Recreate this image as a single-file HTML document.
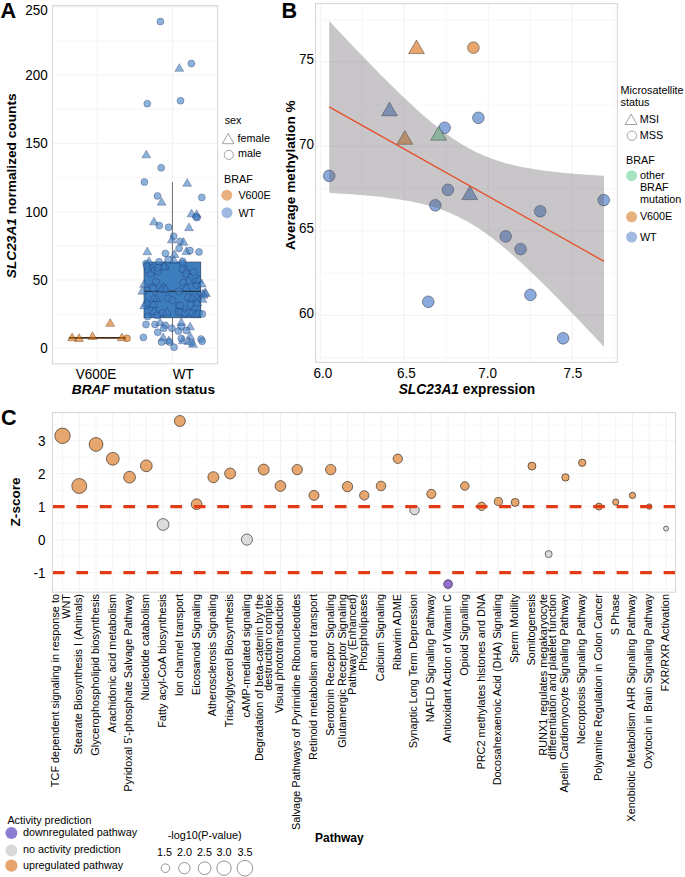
<!DOCTYPE html>
<html><head><meta charset="utf-8"><style>html,body{margin:0;padding:0;background:#fff;}body{width:685px;height:877px;overflow:hidden;position:relative;font-family:"Liberation Sans", sans-serif;}</style></head><body>
<svg width="685" height="877" viewBox="0 0 685 877" style="position:absolute;left:0;top:0;font-family:'Liberation Sans', sans-serif">
<rect x="0" y="0" width="685" height="877" fill="#ffffff"/>
<g stroke="#f0f0f0" stroke-width="0.8" fill="none">
<line x1="52.4" x2="217.6" y1="314.15" y2="314.15" stroke-width="0.6"/>
<line x1="52.4" x2="217.6" y1="245.85" y2="245.85" stroke-width="0.6"/>
<line x1="52.4" x2="217.6" y1="177.55" y2="177.55" stroke-width="0.6"/>
<line x1="52.4" x2="217.6" y1="109.25" y2="109.25" stroke-width="0.6"/>
<line x1="52.4" x2="217.6" y1="40.95" y2="40.95" stroke-width="0.6"/>
<line x1="52.4" x2="217.6" y1="348.30" y2="348.30"/>
<line x1="52.4" x2="217.6" y1="280.00" y2="280.00"/>
<line x1="52.4" x2="217.6" y1="211.70" y2="211.70"/>
<line x1="52.4" x2="217.6" y1="143.40" y2="143.40"/>
<line x1="52.4" x2="217.6" y1="75.10" y2="75.10"/>
<line x1="52.4" x2="217.6" y1="6.80" y2="6.80"/>
<line x1="97.4" x2="97.4" y1="5.7" y2="363.8"/>
<line x1="172.5" x2="172.5" y1="5.7" y2="363.8"/>
</g>
<text transform="translate(47.8,15.3) scale(1,1.06)" x="0" y="0" font-size="13.5" text-anchor="end" font-weight="normal" font-style="normal" fill="#000" >250</text>
<text transform="translate(47.8,80.0) scale(1,1.06)" x="0" y="0" font-size="13.5" text-anchor="end" font-weight="normal" font-style="normal" fill="#000" >200</text>
<text transform="translate(47.8,148.4) scale(1,1.06)" x="0" y="0" font-size="13.5" text-anchor="end" font-weight="normal" font-style="normal" fill="#000" >150</text>
<text transform="translate(47.8,216.5) scale(1,1.06)" x="0" y="0" font-size="13.5" text-anchor="end" font-weight="normal" font-style="normal" fill="#000" >100</text>
<text transform="translate(47.8,284.9) scale(1,1.06)" x="0" y="0" font-size="13.5" text-anchor="end" font-weight="normal" font-style="normal" fill="#000" >50</text>
<text transform="translate(47.8,353.2) scale(1,1.06)" x="0" y="0" font-size="13.5" text-anchor="end" font-weight="normal" font-style="normal" fill="#000" >0</text>
<line x1="172.4" x2="172.4" y1="182" y2="262.1" stroke="#5e5e5e" stroke-width="0.9"/>
<line x1="172.4" x2="172.4" y1="317.7" y2="345" stroke="#5e5e5e" stroke-width="0.9"/>
<rect x="144.1" y="262.1" width="56.6" height="55.6" fill="#3c7dbe" stroke="#2a4866" stroke-width="0.8"/>
<line x1="144.1" x2="200.7" y1="291.4" y2="291.4" stroke="#24364a" stroke-width="1.4"/>
<line x1="68.8" x2="126" y1="337.9" y2="337.9" stroke="#4a2e18" stroke-width="1.6"/>
<g>
<circle cx="160.40" cy="21.60" r="3.5" fill="#3f7ec2" fill-opacity="0.6" stroke="#16205a" stroke-opacity="0.6" stroke-width="0.5"/>
<circle cx="191.40" cy="63.50" r="3.5" fill="#3f7ec2" fill-opacity="0.6" stroke="#16205a" stroke-opacity="0.6" stroke-width="0.5"/>
<polygon points="179.30,63.65 183.70,71.35 174.90,71.35" fill="#3f7ec2" fill-opacity="0.6" stroke="#16205a" stroke-opacity="0.6" stroke-width="0.5"/>
<circle cx="147.30" cy="103.70" r="3.5" fill="#3f7ec2" fill-opacity="0.6" stroke="#16205a" stroke-opacity="0.6" stroke-width="0.5"/>
<circle cx="180.50" cy="100.70" r="3.5" fill="#3f7ec2" fill-opacity="0.6" stroke="#16205a" stroke-opacity="0.6" stroke-width="0.5"/>
<polygon points="146.30,150.15 150.70,157.85 141.90,157.85" fill="#3f7ec2" fill-opacity="0.6" stroke="#16205a" stroke-opacity="0.6" stroke-width="0.5"/>
<circle cx="161.20" cy="167.80" r="3.5" fill="#3f7ec2" fill-opacity="0.6" stroke="#16205a" stroke-opacity="0.6" stroke-width="0.5"/>
<circle cx="144.40" cy="182.00" r="3.5" fill="#3f7ec2" fill-opacity="0.6" stroke="#16205a" stroke-opacity="0.6" stroke-width="0.5"/>
<circle cx="157.50" cy="195.90" r="3.5" fill="#3f7ec2" fill-opacity="0.6" stroke="#16205a" stroke-opacity="0.6" stroke-width="0.5"/>
<polygon points="161.60,197.45 166.00,205.15 157.20,205.15" fill="#3f7ec2" fill-opacity="0.6" stroke="#16205a" stroke-opacity="0.6" stroke-width="0.5"/>
<polygon points="187.20,178.65 191.60,186.35 182.80,186.35" fill="#3f7ec2" fill-opacity="0.6" stroke="#16205a" stroke-opacity="0.6" stroke-width="0.5"/>
<circle cx="201.80" cy="197.40" r="3.5" fill="#3f7ec2" fill-opacity="0.6" stroke="#16205a" stroke-opacity="0.6" stroke-width="0.5"/>
<polygon points="191.50,209.15 195.90,216.85 187.10,216.85" fill="#3f7ec2" fill-opacity="0.6" stroke="#16205a" stroke-opacity="0.6" stroke-width="0.5"/>
<polygon points="196.60,209.75 201.00,217.45 192.20,217.45" fill="#3f7ec2" fill-opacity="0.6" stroke="#16205a" stroke-opacity="0.6" stroke-width="0.5"/>
<circle cx="197.10" cy="217.60" r="3.5" fill="#3f7ec2" fill-opacity="0.6" stroke="#16205a" stroke-opacity="0.6" stroke-width="0.5"/>
<circle cx="196.00" cy="216.80" r="3.5" fill="#3f7ec2" fill-opacity="0.6" stroke="#16205a" stroke-opacity="0.6" stroke-width="0.5"/>
<polygon points="154.00,217.15 158.40,224.85 149.60,224.85" fill="#3f7ec2" fill-opacity="0.6" stroke="#16205a" stroke-opacity="0.6" stroke-width="0.5"/>
<circle cx="159.30" cy="225.60" r="3.5" fill="#3f7ec2" fill-opacity="0.6" stroke="#16205a" stroke-opacity="0.6" stroke-width="0.5"/>
<circle cx="168.60" cy="227.30" r="3.5" fill="#3f7ec2" fill-opacity="0.6" stroke="#16205a" stroke-opacity="0.6" stroke-width="0.5"/>
<polygon points="189.00,222.95 193.40,230.65 184.60,230.65" fill="#3f7ec2" fill-opacity="0.6" stroke="#16205a" stroke-opacity="0.6" stroke-width="0.5"/>
<circle cx="173.60" cy="236.20" r="3.5" fill="#3f7ec2" fill-opacity="0.6" stroke="#16205a" stroke-opacity="0.6" stroke-width="0.5"/>
<polygon points="171.80,235.15 176.20,242.85 167.40,242.85" fill="#3f7ec2" fill-opacity="0.6" stroke="#16205a" stroke-opacity="0.6" stroke-width="0.5"/>
<circle cx="180.00" cy="241.40" r="3.5" fill="#3f7ec2" fill-opacity="0.6" stroke="#16205a" stroke-opacity="0.6" stroke-width="0.5"/>
<polygon points="183.50,237.55 187.90,245.25 179.10,245.25" fill="#3f7ec2" fill-opacity="0.6" stroke="#16205a" stroke-opacity="0.6" stroke-width="0.5"/>
<circle cx="179.10" cy="248.40" r="3.5" fill="#3f7ec2" fill-opacity="0.6" stroke="#16205a" stroke-opacity="0.6" stroke-width="0.5"/>
<polygon points="147.30,247.05 151.70,254.75 142.90,254.75" fill="#3f7ec2" fill-opacity="0.6" stroke="#16205a" stroke-opacity="0.6" stroke-width="0.5"/>
<circle cx="165.40" cy="253.40" r="3.5" fill="#3f7ec2" fill-opacity="0.6" stroke="#16205a" stroke-opacity="0.6" stroke-width="0.5"/>
<polygon points="174.50,249.75 178.90,257.45 170.10,257.45" fill="#3f7ec2" fill-opacity="0.6" stroke="#16205a" stroke-opacity="0.6" stroke-width="0.5"/>
<polygon points="186.40,246.85 190.80,254.55 182.00,254.55" fill="#3f7ec2" fill-opacity="0.6" stroke="#16205a" stroke-opacity="0.6" stroke-width="0.5"/>
<circle cx="189.90" cy="250.50" r="3.5" fill="#3f7ec2" fill-opacity="0.6" stroke="#16205a" stroke-opacity="0.6" stroke-width="0.5"/>
<circle cx="199.00" cy="251.90" r="3.5" fill="#3f7ec2" fill-opacity="0.6" stroke="#16205a" stroke-opacity="0.6" stroke-width="0.5"/>
<circle cx="168.30" cy="259.50" r="3.5" fill="#3f7ec2" fill-opacity="0.6" stroke="#16205a" stroke-opacity="0.6" stroke-width="0.5"/>
<polygon points="174.10,255.65 178.50,263.35 169.70,263.35" fill="#3f7ec2" fill-opacity="0.6" stroke="#16205a" stroke-opacity="0.6" stroke-width="0.5"/>
<circle cx="182.60" cy="261.20" r="3.5" fill="#3f7ec2" fill-opacity="0.6" stroke="#16205a" stroke-opacity="0.6" stroke-width="0.5"/>
<circle cx="159.00" cy="261.80" r="3.5" fill="#3f7ec2" fill-opacity="0.6" stroke="#16205a" stroke-opacity="0.6" stroke-width="0.5"/>
<polygon points="149.00,256.75 153.40,264.45 144.60,264.45" fill="#3f7ec2" fill-opacity="0.6" stroke="#16205a" stroke-opacity="0.6" stroke-width="0.5"/>
<circle cx="146.10" cy="263.50" r="3.5" fill="#3f7ec2" fill-opacity="0.6" stroke="#16205a" stroke-opacity="0.6" stroke-width="0.5"/>
<polygon points="164.80,260.85 169.20,268.55 160.40,268.55" fill="#3f7ec2" fill-opacity="0.6" stroke="#16205a" stroke-opacity="0.6" stroke-width="0.5"/>
<circle cx="147.70" cy="269.70" r="3.5" fill="#3f7ec2" fill-opacity="0.6" stroke="#16205a" stroke-opacity="0.6" stroke-width="0.5"/>
<circle cx="151.00" cy="273.80" r="3.5" fill="#3f7ec2" fill-opacity="0.6" stroke="#16205a" stroke-opacity="0.6" stroke-width="0.5"/>
<circle cx="154.80" cy="270.20" r="3.5" fill="#3f7ec2" fill-opacity="0.6" stroke="#16205a" stroke-opacity="0.6" stroke-width="0.5"/>
<circle cx="157.60" cy="271.50" r="3.5" fill="#3f7ec2" fill-opacity="0.6" stroke="#16205a" stroke-opacity="0.6" stroke-width="0.5"/>
<circle cx="146.80" cy="266.10" r="3.5" fill="#3f7ec2" fill-opacity="0.6" stroke="#16205a" stroke-opacity="0.6" stroke-width="0.5"/>
<polygon points="164.00,262.05 168.40,269.75 159.60,269.75" fill="#3f7ec2" fill-opacity="0.6" stroke="#16205a" stroke-opacity="0.6" stroke-width="0.5"/>
<circle cx="158.10" cy="267.80" r="3.5" fill="#3f7ec2" fill-opacity="0.6" stroke="#16205a" stroke-opacity="0.6" stroke-width="0.5"/>
<circle cx="155.80" cy="282.00" r="3.5" fill="#3f7ec2" fill-opacity="0.6" stroke="#16205a" stroke-opacity="0.6" stroke-width="0.5"/>
<polygon points="144.00,279.65 148.40,287.35 139.60,287.35" fill="#3f7ec2" fill-opacity="0.6" stroke="#16205a" stroke-opacity="0.6" stroke-width="0.5"/>
<circle cx="152.30" cy="287.10" r="3.5" fill="#3f7ec2" fill-opacity="0.6" stroke="#16205a" stroke-opacity="0.6" stroke-width="0.5"/>
<circle cx="153.30" cy="288.60" r="3.5" fill="#3f7ec2" fill-opacity="0.6" stroke="#16205a" stroke-opacity="0.6" stroke-width="0.5"/>
<polygon points="163.50,282.75 167.90,290.45 159.10,290.45" fill="#3f7ec2" fill-opacity="0.6" stroke="#16205a" stroke-opacity="0.6" stroke-width="0.5"/>
<polygon points="161.50,284.75 165.90,292.45 157.10,292.45" fill="#3f7ec2" fill-opacity="0.6" stroke="#16205a" stroke-opacity="0.6" stroke-width="0.5"/>
<polygon points="165.70,284.65 170.10,292.35 161.30,292.35" fill="#3f7ec2" fill-opacity="0.6" stroke="#16205a" stroke-opacity="0.6" stroke-width="0.5"/>
<circle cx="182.60" cy="263.30" r="3.5" fill="#3f7ec2" fill-opacity="0.6" stroke="#16205a" stroke-opacity="0.6" stroke-width="0.5"/>
<circle cx="182.60" cy="269.10" r="3.5" fill="#3f7ec2" fill-opacity="0.6" stroke="#16205a" stroke-opacity="0.6" stroke-width="0.5"/>
<polygon points="186.90,266.45 191.30,274.15 182.50,274.15" fill="#3f7ec2" fill-opacity="0.6" stroke="#16205a" stroke-opacity="0.6" stroke-width="0.5"/>
<circle cx="185.80" cy="273.80" r="3.5" fill="#3f7ec2" fill-opacity="0.6" stroke="#16205a" stroke-opacity="0.6" stroke-width="0.5"/>
<circle cx="193.60" cy="272.00" r="3.5" fill="#3f7ec2" fill-opacity="0.6" stroke="#16205a" stroke-opacity="0.6" stroke-width="0.5"/>
<polygon points="188.60,276.15 193.00,283.85 184.20,283.85" fill="#3f7ec2" fill-opacity="0.6" stroke="#16205a" stroke-opacity="0.6" stroke-width="0.5"/>
<circle cx="183.40" cy="282.50" r="3.5" fill="#3f7ec2" fill-opacity="0.6" stroke="#16205a" stroke-opacity="0.6" stroke-width="0.5"/>
<circle cx="195.70" cy="281.40" r="3.5" fill="#3f7ec2" fill-opacity="0.6" stroke="#16205a" stroke-opacity="0.6" stroke-width="0.5"/>
<circle cx="196.90" cy="285.40" r="3.5" fill="#3f7ec2" fill-opacity="0.6" stroke="#16205a" stroke-opacity="0.6" stroke-width="0.5"/>
<polygon points="198.60,275.15 203.00,282.85 194.20,282.85" fill="#3f7ec2" fill-opacity="0.6" stroke="#16205a" stroke-opacity="0.6" stroke-width="0.5"/>
<polygon points="201.80,279.25 206.20,286.95 197.40,286.95" fill="#3f7ec2" fill-opacity="0.6" stroke="#16205a" stroke-opacity="0.6" stroke-width="0.5"/>
<polygon points="186.40,283.35 190.80,291.05 182.00,291.05" fill="#3f7ec2" fill-opacity="0.6" stroke="#16205a" stroke-opacity="0.6" stroke-width="0.5"/>
<circle cx="178.80" cy="291.30" r="3.5" fill="#3f7ec2" fill-opacity="0.6" stroke="#16205a" stroke-opacity="0.6" stroke-width="0.5"/>
<polygon points="205.00,288.05 209.40,295.75 200.60,295.75" fill="#3f7ec2" fill-opacity="0.6" stroke="#16205a" stroke-opacity="0.6" stroke-width="0.5"/>
<polygon points="202.70,289.15 207.10,296.85 198.30,296.85" fill="#3f7ec2" fill-opacity="0.6" stroke="#16205a" stroke-opacity="0.6" stroke-width="0.5"/>
<polygon points="142.30,286.45 146.70,294.15 137.90,294.15" fill="#3f7ec2" fill-opacity="0.6" stroke="#16205a" stroke-opacity="0.6" stroke-width="0.5"/>
<polygon points="156.40,293.95 160.80,301.65 152.00,301.65" fill="#3f7ec2" fill-opacity="0.6" stroke="#16205a" stroke-opacity="0.6" stroke-width="0.5"/>
<polygon points="153.40,293.75 157.80,301.45 149.00,301.45" fill="#3f7ec2" fill-opacity="0.6" stroke="#16205a" stroke-opacity="0.6" stroke-width="0.5"/>
<circle cx="168.00" cy="298.10" r="3.5" fill="#3f7ec2" fill-opacity="0.6" stroke="#16205a" stroke-opacity="0.6" stroke-width="0.5"/>
<circle cx="172.40" cy="300.20" r="3.5" fill="#3f7ec2" fill-opacity="0.6" stroke="#16205a" stroke-opacity="0.6" stroke-width="0.5"/>
<polygon points="146.40,298.65 150.80,306.35 142.00,306.35" fill="#3f7ec2" fill-opacity="0.6" stroke="#16205a" stroke-opacity="0.6" stroke-width="0.5"/>
<polygon points="144.10,301.05 148.50,308.75 139.70,308.75" fill="#3f7ec2" fill-opacity="0.6" stroke="#16205a" stroke-opacity="0.6" stroke-width="0.5"/>
<polygon points="153.40,299.85 157.80,307.55 149.00,307.55" fill="#3f7ec2" fill-opacity="0.6" stroke="#16205a" stroke-opacity="0.6" stroke-width="0.5"/>
<circle cx="178.50" cy="305.40" r="3.5" fill="#3f7ec2" fill-opacity="0.6" stroke="#16205a" stroke-opacity="0.6" stroke-width="0.5"/>
<polygon points="154.00,306.85 158.40,314.55 149.60,314.55" fill="#3f7ec2" fill-opacity="0.6" stroke="#16205a" stroke-opacity="0.6" stroke-width="0.5"/>
<circle cx="162.20" cy="313.00" r="3.5" fill="#3f7ec2" fill-opacity="0.6" stroke="#16205a" stroke-opacity="0.6" stroke-width="0.5"/>
<polygon points="166.90,307.45 171.30,315.15 162.50,315.15" fill="#3f7ec2" fill-opacity="0.6" stroke="#16205a" stroke-opacity="0.6" stroke-width="0.5"/>
<circle cx="157.00" cy="315.40" r="3.5" fill="#3f7ec2" fill-opacity="0.6" stroke="#16205a" stroke-opacity="0.6" stroke-width="0.5"/>
<circle cx="178.50" cy="311.90" r="3.5" fill="#3f7ec2" fill-opacity="0.6" stroke="#16205a" stroke-opacity="0.6" stroke-width="0.5"/>
<circle cx="147.60" cy="316.50" r="3.5" fill="#3f7ec2" fill-opacity="0.6" stroke="#16205a" stroke-opacity="0.6" stroke-width="0.5"/>
<polygon points="205.90,288.85 210.30,296.55 201.50,296.55" fill="#3f7ec2" fill-opacity="0.6" stroke="#16205a" stroke-opacity="0.6" stroke-width="0.5"/>
<polygon points="203.60,290.55 208.00,298.25 199.20,298.25" fill="#3f7ec2" fill-opacity="0.6" stroke="#16205a" stroke-opacity="0.6" stroke-width="0.5"/>
<polygon points="202.40,294.65 206.80,302.35 198.00,302.35" fill="#3f7ec2" fill-opacity="0.6" stroke="#16205a" stroke-opacity="0.6" stroke-width="0.5"/>
<circle cx="187.80" cy="297.30" r="3.5" fill="#3f7ec2" fill-opacity="0.6" stroke="#16205a" stroke-opacity="0.6" stroke-width="0.5"/>
<polygon points="191.90,293.45 196.30,301.15 187.50,301.15" fill="#3f7ec2" fill-opacity="0.6" stroke="#16205a" stroke-opacity="0.6" stroke-width="0.5"/>
<polygon points="197.20,292.95 201.60,300.65 192.80,300.65" fill="#3f7ec2" fill-opacity="0.6" stroke="#16205a" stroke-opacity="0.6" stroke-width="0.5"/>
<circle cx="180.30" cy="305.50" r="3.5" fill="#3f7ec2" fill-opacity="0.6" stroke="#16205a" stroke-opacity="0.6" stroke-width="0.5"/>
<circle cx="190.20" cy="304.90" r="3.5" fill="#3f7ec2" fill-opacity="0.6" stroke="#16205a" stroke-opacity="0.6" stroke-width="0.5"/>
<polygon points="197.20,298.15 201.60,305.85 192.80,305.85" fill="#3f7ec2" fill-opacity="0.6" stroke="#16205a" stroke-opacity="0.6" stroke-width="0.5"/>
<circle cx="180.80" cy="312.50" r="3.5" fill="#3f7ec2" fill-opacity="0.6" stroke="#16205a" stroke-opacity="0.6" stroke-width="0.5"/>
<circle cx="184.90" cy="313.70" r="3.5" fill="#3f7ec2" fill-opacity="0.6" stroke="#16205a" stroke-opacity="0.6" stroke-width="0.5"/>
<circle cx="189.00" cy="312.50" r="3.5" fill="#3f7ec2" fill-opacity="0.6" stroke="#16205a" stroke-opacity="0.6" stroke-width="0.5"/>
<circle cx="192.50" cy="313.10" r="3.5" fill="#3f7ec2" fill-opacity="0.6" stroke="#16205a" stroke-opacity="0.6" stroke-width="0.5"/>
<circle cx="196.60" cy="314.30" r="3.5" fill="#3f7ec2" fill-opacity="0.6" stroke="#16205a" stroke-opacity="0.6" stroke-width="0.5"/>
<circle cx="199.00" cy="313.10" r="3.5" fill="#3f7ec2" fill-opacity="0.6" stroke="#16205a" stroke-opacity="0.6" stroke-width="0.5"/>
<circle cx="202.40" cy="314.00" r="3.5" fill="#3f7ec2" fill-opacity="0.6" stroke="#16205a" stroke-opacity="0.6" stroke-width="0.5"/>
<circle cx="146.00" cy="324.50" r="3.5" fill="#3f7ec2" fill-opacity="0.6" stroke="#16205a" stroke-opacity="0.6" stroke-width="0.5"/>
<circle cx="155.00" cy="324.50" r="3.5" fill="#3f7ec2" fill-opacity="0.6" stroke="#16205a" stroke-opacity="0.6" stroke-width="0.5"/>
<polygon points="160.10,317.75 164.50,325.45 155.70,325.45" fill="#3f7ec2" fill-opacity="0.6" stroke="#16205a" stroke-opacity="0.6" stroke-width="0.5"/>
<circle cx="165.30" cy="325.30" r="3.5" fill="#3f7ec2" fill-opacity="0.6" stroke="#16205a" stroke-opacity="0.6" stroke-width="0.5"/>
<circle cx="163.80" cy="328.20" r="3.5" fill="#3f7ec2" fill-opacity="0.6" stroke="#16205a" stroke-opacity="0.6" stroke-width="0.5"/>
<circle cx="171.80" cy="328.20" r="3.5" fill="#3f7ec2" fill-opacity="0.6" stroke="#16205a" stroke-opacity="0.6" stroke-width="0.5"/>
<polygon points="181.30,317.75 185.70,325.45 176.90,325.45" fill="#3f7ec2" fill-opacity="0.6" stroke="#16205a" stroke-opacity="0.6" stroke-width="0.5"/>
<circle cx="181.30" cy="326.70" r="3.5" fill="#3f7ec2" fill-opacity="0.6" stroke="#16205a" stroke-opacity="0.6" stroke-width="0.5"/>
<polygon points="190.10,322.15 194.50,329.85 185.70,329.85" fill="#3f7ec2" fill-opacity="0.6" stroke="#16205a" stroke-opacity="0.6" stroke-width="0.5"/>
<circle cx="178.40" cy="331.10" r="3.5" fill="#3f7ec2" fill-opacity="0.6" stroke="#16205a" stroke-opacity="0.6" stroke-width="0.5"/>
<circle cx="186.40" cy="330.40" r="3.5" fill="#3f7ec2" fill-opacity="0.6" stroke="#16205a" stroke-opacity="0.6" stroke-width="0.5"/>
<circle cx="157.70" cy="332.30" r="3.5" fill="#3f7ec2" fill-opacity="0.6" stroke="#16205a" stroke-opacity="0.6" stroke-width="0.5"/>
<circle cx="143.40" cy="337.40" r="3.5" fill="#3f7ec2" fill-opacity="0.6" stroke="#16205a" stroke-opacity="0.6" stroke-width="0.5"/>
<polygon points="163.10,333.05 167.50,340.75 158.70,340.75" fill="#3f7ec2" fill-opacity="0.6" stroke="#16205a" stroke-opacity="0.6" stroke-width="0.5"/>
<circle cx="161.60" cy="342.00" r="3.5" fill="#3f7ec2" fill-opacity="0.6" stroke="#16205a" stroke-opacity="0.6" stroke-width="0.5"/>
<polygon points="168.90,336.05 173.30,343.75 164.50,343.75" fill="#3f7ec2" fill-opacity="0.6" stroke="#16205a" stroke-opacity="0.6" stroke-width="0.5"/>
<circle cx="169.60" cy="342.00" r="3.5" fill="#3f7ec2" fill-opacity="0.6" stroke="#16205a" stroke-opacity="0.6" stroke-width="0.5"/>
<circle cx="174.00" cy="347.20" r="3.5" fill="#3f7ec2" fill-opacity="0.6" stroke="#16205a" stroke-opacity="0.6" stroke-width="0.5"/>
<polygon points="182.80,336.05 187.20,343.75 178.40,343.75" fill="#3f7ec2" fill-opacity="0.6" stroke="#16205a" stroke-opacity="0.6" stroke-width="0.5"/>
<circle cx="181.30" cy="338.40" r="3.5" fill="#3f7ec2" fill-opacity="0.6" stroke="#16205a" stroke-opacity="0.6" stroke-width="0.5"/>
<polygon points="190.10,331.65 194.50,339.35 185.70,339.35" fill="#3f7ec2" fill-opacity="0.6" stroke="#16205a" stroke-opacity="0.6" stroke-width="0.5"/>
<polygon points="188.60,336.75 193.00,344.45 184.20,344.45" fill="#3f7ec2" fill-opacity="0.6" stroke="#16205a" stroke-opacity="0.6" stroke-width="0.5"/>
<polygon points="193.00,339.65 197.40,347.35 188.60,347.35" fill="#3f7ec2" fill-opacity="0.6" stroke="#16205a" stroke-opacity="0.6" stroke-width="0.5"/>
<circle cx="191.50" cy="342.80" r="3.5" fill="#3f7ec2" fill-opacity="0.6" stroke="#16205a" stroke-opacity="0.6" stroke-width="0.5"/>
<circle cx="201.00" cy="339.10" r="3.5" fill="#3f7ec2" fill-opacity="0.6" stroke="#16205a" stroke-opacity="0.6" stroke-width="0.5"/>
<circle cx="202.20" cy="341.30" r="3.5" fill="#3f7ec2" fill-opacity="0.6" stroke="#16205a" stroke-opacity="0.6" stroke-width="0.5"/>
</g>
<polygon points="72.10,333.05 76.50,340.75 67.70,340.75" fill="#d56e0d" fill-opacity="0.6" stroke="#4a2a10" stroke-opacity="0.6" stroke-width="0.6"/>
<polygon points="79.00,333.75 83.40,341.45 74.60,341.45" fill="#d56e0d" fill-opacity="0.6" stroke="#4a2a10" stroke-opacity="0.6" stroke-width="0.6"/>
<polygon points="92.50,331.75 96.90,339.45 88.10,339.45" fill="#d56e0d" fill-opacity="0.6" stroke="#4a2a10" stroke-opacity="0.6" stroke-width="0.6"/>
<polygon points="110.20,318.65 114.60,326.35 105.80,326.35" fill="#d56e0d" fill-opacity="0.6" stroke="#4a2a10" stroke-opacity="0.6" stroke-width="0.6"/>
<polygon points="121.80,333.05 126.20,340.75 117.40,340.75" fill="#d56e0d" fill-opacity="0.6" stroke="#4a2a10" stroke-opacity="0.6" stroke-width="0.6"/>
<circle cx="127.00" cy="338.30" r="3.5" fill="#d56e0d" fill-opacity="0.6" stroke="#4a2a10" stroke-opacity="0.6" stroke-width="0.6"/>
<rect x="52.4" y="5.7" width="165.2" height="358.1" fill="none" stroke="#d4d4d4" stroke-width="1"/>
<text transform="translate(96.0,378.8) scale(1,1.06)" x="0" y="0" font-size="13.5" text-anchor="middle" font-weight="normal" font-style="normal" fill="#000" >V600E</text>
<text transform="translate(172.8,378.8) scale(1,1.06)" x="0" y="0" font-size="13.5" text-anchor="start" font-weight="normal" font-style="normal" fill="#000" >WT</text>
<text transform="translate(71.8,393.5) " x="0" y="0" font-size="13.65" font-weight="bold" fill="#000"><tspan font-style="italic">BRAF</tspan> mutation status</text>
<text transform="translate(15.9,185.8) rotate(-90) " x="0" y="0" font-size="13.7" font-weight="bold" text-anchor="middle" fill="#000"><tspan font-style="italic">SLC23A1</tspan> normalized counts</text>
<text transform="translate(0.6,17.7) scale(1,1.06)" x="0" y="0" font-size="21.6" text-anchor="start" font-weight="bold" font-style="normal" fill="#000" >A</text>
<text x="224.7" y="123.9" font-size="10.8" text-anchor="start" font-weight="normal" font-style="normal" fill="#000" >sex</text>
<polygon points="228.20,133.40 234.00,143.70 222.40,143.70" fill="none" fill-opacity="1.0" stroke="#8c8c8c" stroke-width="0.8" />
<text x="237.6" y="141.8" font-size="10.8" text-anchor="start" font-weight="normal" font-style="normal" fill="#000" >female</text>
<circle cx="228.80" cy="154.90" r="4.60" fill="none" fill-opacity="1.0" stroke="#8c8c8c" stroke-width="0.8" />
<text x="237.9" y="156.9" font-size="10.8" text-anchor="start" font-weight="normal" font-style="normal" fill="#000" >male</text>
<text x="224.0" y="183.0" font-size="10.8" text-anchor="start" font-weight="normal" font-style="normal" fill="#000" >BRAF</text>
<circle cx="226.80" cy="195.20" r="5.50" fill="#e8b07c" fill-opacity="1.0" stroke="none" stroke-width="0" />
<text x="238.4" y="198.5" font-size="10.8" text-anchor="start" font-weight="normal" font-style="normal" fill="#000" >V600E</text>
<circle cx="227.00" cy="212.70" r="5.50" fill="#a0b9e1" fill-opacity="1.0" stroke="none" stroke-width="0" />
<text x="238.4" y="216.7" font-size="10.8" text-anchor="start" font-weight="normal" font-style="normal" fill="#000" >WT</text>
<g stroke="#f0f0f0" stroke-width="0.8" fill="none">
<line x1="362.38" x2="362.38" y1="3.7" y2="362.3" stroke-width="0.6"/>
<line x1="446.32" x2="446.32" y1="3.7" y2="362.3" stroke-width="0.6"/>
<line x1="530.27" x2="530.27" y1="3.7" y2="362.3" stroke-width="0.6"/>
<line x1="614.22" x2="614.22" y1="3.7" y2="362.3" stroke-width="0.6"/>
<line x1="320.40" x2="320.40" y1="3.7" y2="362.3"/>
<line x1="404.35" x2="404.35" y1="3.7" y2="362.3"/>
<line x1="488.30" x2="488.30" y1="3.7" y2="362.3"/>
<line x1="572.25" x2="572.25" y1="3.7" y2="362.3"/>
<line x1="315.5" x2="617.3" y1="357.65" y2="357.65" stroke-width="0.6"/>
<line x1="315.5" x2="617.3" y1="273.15" y2="273.15" stroke-width="0.6"/>
<line x1="315.5" x2="617.3" y1="188.65" y2="188.65" stroke-width="0.6"/>
<line x1="315.5" x2="617.3" y1="104.15" y2="104.15" stroke-width="0.6"/>
<line x1="315.5" x2="617.3" y1="19.65" y2="19.65" stroke-width="0.6"/>
<line x1="315.5" x2="617.3" y1="315.40" y2="315.40"/>
<line x1="315.5" x2="617.3" y1="230.90" y2="230.90"/>
<line x1="315.5" x2="617.3" y1="146.40" y2="146.40"/>
<line x1="315.5" x2="617.3" y1="61.90" y2="61.90"/>
</g>
<text transform="translate(313.9,317.9) scale(1,1.06)" x="0" y="0" font-size="13.5" text-anchor="end" font-weight="normal" font-style="normal" fill="#000" >60</text>
<text transform="translate(313.9,233.3) scale(1,1.06)" x="0" y="0" font-size="13.5" text-anchor="end" font-weight="normal" font-style="normal" fill="#000" >65</text>
<text transform="translate(313.9,148.8) scale(1,1.06)" x="0" y="0" font-size="13.5" text-anchor="end" font-weight="normal" font-style="normal" fill="#000" >70</text>
<text transform="translate(313.9,64.4) scale(1,1.06)" x="0" y="0" font-size="13.5" text-anchor="end" font-weight="normal" font-style="normal" fill="#000" >75</text>
<text transform="translate(322.9,378.2) scale(1,1.06)" x="0" y="0" font-size="13.5" text-anchor="middle" font-weight="normal" font-style="normal" fill="#000" >6.0</text>
<text transform="translate(406.3,378.2) scale(1,1.06)" x="0" y="0" font-size="13.5" text-anchor="middle" font-weight="normal" font-style="normal" fill="#000" >6.5</text>
<text transform="translate(487.6,378.2) scale(1,1.06)" x="0" y="0" font-size="13.5" text-anchor="middle" font-weight="normal" font-style="normal" fill="#000" >7.0</text>
<text transform="translate(572.8,378.2) scale(1,1.06)" x="0" y="0" font-size="13.5" text-anchor="middle" font-weight="normal" font-style="normal" fill="#000" >7.5</text>
<circle cx="473.40" cy="47.70" r="5.85" fill="#e6a66e" fill-opacity="1" stroke="#000" stroke-width="0.75" stroke-opacity="0.5"/>
<circle cx="478.40" cy="117.80" r="5.85" fill="#8aaadc" fill-opacity="1" stroke="#000" stroke-width="0.75" stroke-opacity="0.5"/>
<circle cx="444.60" cy="127.80" r="5.85" fill="#8aaadc" fill-opacity="1" stroke="#000" stroke-width="0.75" stroke-opacity="0.5"/>
<circle cx="329.20" cy="175.90" r="5.85" fill="#8aaadc" fill-opacity="1" stroke="#000" stroke-width="0.75" stroke-opacity="0.5"/>
<circle cx="447.90" cy="189.80" r="5.85" fill="#8aaadc" fill-opacity="1" stroke="#000" stroke-width="0.75" stroke-opacity="0.5"/>
<circle cx="435.30" cy="205.30" r="5.85" fill="#8aaadc" fill-opacity="1" stroke="#000" stroke-width="0.75" stroke-opacity="0.5"/>
<circle cx="505.70" cy="236.40" r="5.85" fill="#8aaadc" fill-opacity="1" stroke="#000" stroke-width="0.75" stroke-opacity="0.5"/>
<circle cx="520.60" cy="249.10" r="5.85" fill="#8aaadc" fill-opacity="1" stroke="#000" stroke-width="0.75" stroke-opacity="0.5"/>
<circle cx="540.20" cy="211.30" r="5.85" fill="#8aaadc" fill-opacity="1" stroke="#000" stroke-width="0.75" stroke-opacity="0.5"/>
<circle cx="603.70" cy="200.10" r="5.85" fill="#8aaadc" fill-opacity="1" stroke="#000" stroke-width="0.75" stroke-opacity="0.5"/>
<circle cx="530.40" cy="294.90" r="5.85" fill="#8aaadc" fill-opacity="1" stroke="#000" stroke-width="0.75" stroke-opacity="0.5"/>
<circle cx="563.10" cy="338.30" r="5.85" fill="#8aaadc" fill-opacity="1" stroke="#000" stroke-width="0.75" stroke-opacity="0.5"/>
<circle cx="428.30" cy="301.80" r="5.85" fill="#8aaadc" fill-opacity="1" stroke="#000" stroke-width="0.75" stroke-opacity="0.5"/>
<polygon points="416.50,40.00 424.40,53.60 408.60,53.60" fill="#e6a66e" fill-opacity="1" stroke="#000" stroke-width="0.75" stroke-opacity="0.5"/>
<polygon points="389.50,102.20 397.40,115.80 381.60,115.80" fill="#8aaadc" fill-opacity="1" stroke="#000" stroke-width="0.75" stroke-opacity="0.5"/>
<polygon points="404.80,130.70 412.70,144.30 396.90,144.30" fill="#e6a66e" fill-opacity="1" stroke="#000" stroke-width="0.75" stroke-opacity="0.5"/>
<polygon points="438.60,126.60 446.50,140.20 430.70,140.20" fill="#9fe0bb" fill-opacity="1" stroke="#000" stroke-width="0.75" stroke-opacity="0.5"/>
<polygon points="469.80,186.00 477.70,199.60 461.90,199.60" fill="#8aaadc" fill-opacity="1" stroke="#000" stroke-width="0.75" stroke-opacity="0.5"/>
<polygon points="329.20,20.94 333.78,25.84 338.36,30.72 342.94,35.58 347.52,40.42 352.10,45.24 356.68,50.04 361.26,54.82 365.84,59.57 370.42,64.29 375.00,68.98 379.58,73.63 384.16,78.25 388.74,82.82 393.32,87.34 397.90,91.81 402.48,96.22 407.06,100.57 411.64,104.84 416.22,109.04 420.80,113.14 425.38,117.15 429.96,121.04 434.54,124.82 439.12,128.47 443.70,131.98 448.28,135.34 452.86,138.54 457.44,141.57 462.02,144.43 466.60,147.10 471.18,149.60 475.76,151.92 480.34,154.07 484.92,156.05 489.50,157.86 494.08,159.53 498.66,161.05 503.24,162.44 507.82,163.71 512.40,164.87 516.98,165.93 521.56,166.90 526.14,167.78 530.72,168.60 535.30,169.34 539.88,170.03 544.46,170.66 549.04,171.25 553.62,171.79 558.20,172.29 562.78,172.75 567.36,173.18 571.94,173.58 576.52,173.96 581.10,174.31 585.68,174.64 590.26,174.94 594.84,175.23 599.42,175.50 604.00,175.76 604.00,346.86 599.42,341.97 594.84,337.09 590.26,332.24 585.68,327.40 581.10,322.58 576.52,317.78 571.94,313.01 567.36,308.26 562.78,303.55 558.20,298.87 553.62,294.22 549.04,289.61 544.46,285.05 539.88,280.53 535.30,276.07 530.72,271.67 526.14,267.34 521.56,263.08 516.98,258.90 512.40,254.81 507.82,250.82 503.24,246.95 498.66,243.19 494.08,239.56 489.50,236.08 484.92,232.75 480.34,229.58 475.76,226.58 471.18,223.75 466.60,221.11 462.02,218.64 457.44,216.35 452.86,214.23 448.28,212.28 443.70,210.49 439.12,208.86 434.54,207.36 429.96,205.99 425.38,204.74 420.80,203.60 416.22,202.56 411.64,201.60 407.06,200.73 402.48,199.93 397.90,199.19 393.32,198.52 388.74,197.89 384.16,197.32 379.58,196.78 375.00,196.29 370.42,195.83 365.84,195.41 361.26,195.01 356.68,194.64 352.10,194.29 347.52,193.97 342.94,193.66 338.36,193.38 333.78,193.11 329.20,192.86" fill="#676267" fill-opacity="0.36" stroke="none"/>
<line x1="329.2" y1="106.90" x2="604" y2="261.31" stroke="#e5502a" stroke-width="1.3"/>
<rect x="315.5" y="3.7" width="301.8" height="358.6" fill="none" stroke="#d4d4d4" stroke-width="1"/>
<text transform="translate(281.6,17.7) scale(1,1.06)" x="0" y="0" font-size="21.6" text-anchor="start" font-weight="bold" font-style="normal" fill="#000" >B</text>
<text transform="translate(295.4,175.1) rotate(-90) " x="0" y="0" font-size="13.65" font-weight="bold" text-anchor="middle" fill="#000">Average methylation %</text>
<text transform="translate(398.7,394.4) " x="0" y="0" font-size="13.72" font-weight="bold" fill="#000"><tspan font-style="italic">SLC23A1</tspan> expression</text>
<text x="620.6" y="93.8" font-size="10.8" text-anchor="start" font-weight="normal" font-style="normal" fill="#000" >Microsatellite</text>
<text x="620.6" y="105.5" font-size="10.8" text-anchor="start" font-weight="normal" font-style="normal" fill="#000" >status</text>
<polygon points="631.10,114.20 637.00,124.50 625.20,124.50" fill="none" fill-opacity="1.0" stroke="#8c8c8c" stroke-width="0.8" />
<text x="639.8" y="123.1" font-size="10.8" text-anchor="start" font-weight="normal" font-style="normal" fill="#000" >MSI</text>
<circle cx="631.90" cy="135.70" r="4.70" fill="none" fill-opacity="1.0" stroke="#8c8c8c" stroke-width="0.8" />
<text x="639.8" y="139.0" font-size="10.8" text-anchor="start" font-weight="normal" font-style="normal" fill="#000" >MSS</text>
<text x="626.1" y="164.3" font-size="10.8" text-anchor="start" font-weight="normal" font-style="normal" fill="#000" >BRAF</text>
<circle cx="631.60" cy="175.70" r="5.50" fill="#a6e4c0" fill-opacity="1.0" stroke="none" stroke-width="0" />
<text x="639.9" y="178.6" font-size="10.8" text-anchor="start" font-weight="normal" font-style="normal" fill="#000" >other</text>
<text x="639.9" y="190.8" font-size="10.8" text-anchor="start" font-weight="normal" font-style="normal" fill="#000" >BRAF</text>
<text x="639.9" y="202.7" font-size="10.8" text-anchor="start" font-weight="normal" font-style="normal" fill="#000" >mutation</text>
<circle cx="631.60" cy="216.80" r="5.50" fill="#e8b07c" fill-opacity="1.0" stroke="none" stroke-width="0" />
<text x="639.9" y="220.2" font-size="10.8" text-anchor="start" font-weight="normal" font-style="normal" fill="#000" >V600E</text>
<circle cx="631.60" cy="237.10" r="5.50" fill="#a0b9e1" fill-opacity="1.0" stroke="none" stroke-width="0" />
<text x="639.9" y="240.5" font-size="10.8" text-anchor="start" font-weight="normal" font-style="normal" fill="#000" >WT</text>
<g stroke="#f0f0f0" stroke-width="0.8" fill="none">
<line x1="52.4" x2="675.5" y1="424.10" y2="424.10" stroke-width="0.6"/>
<line x1="52.4" x2="675.5" y1="457.10" y2="457.10" stroke-width="0.6"/>
<line x1="52.4" x2="675.5" y1="490.10" y2="490.10" stroke-width="0.6"/>
<line x1="52.4" x2="675.5" y1="523.10" y2="523.10" stroke-width="0.6"/>
<line x1="52.4" x2="675.5" y1="556.10" y2="556.10" stroke-width="0.6"/>
<line x1="52.4" x2="675.5" y1="589.10" y2="589.10" stroke-width="0.6"/>
<line x1="52.4" x2="675.5" y1="440.60" y2="440.60"/>
<line x1="52.4" x2="675.5" y1="473.60" y2="473.60"/>
<line x1="52.4" x2="675.5" y1="506.60" y2="506.60"/>
<line x1="52.4" x2="675.5" y1="539.60" y2="539.60"/>
<line x1="52.4" x2="675.5" y1="572.60" y2="572.60"/>
<line x1="62.50" x2="62.50" y1="412.6" y2="592.2"/>
<line x1="79.27" x2="79.27" y1="412.6" y2="592.2"/>
<line x1="96.03" x2="96.03" y1="412.6" y2="592.2"/>
<line x1="112.80" x2="112.80" y1="412.6" y2="592.2"/>
<line x1="129.56" x2="129.56" y1="412.6" y2="592.2"/>
<line x1="146.32" x2="146.32" y1="412.6" y2="592.2"/>
<line x1="163.09" x2="163.09" y1="412.6" y2="592.2"/>
<line x1="179.86" x2="179.86" y1="412.6" y2="592.2"/>
<line x1="196.62" x2="196.62" y1="412.6" y2="592.2"/>
<line x1="213.38" x2="213.38" y1="412.6" y2="592.2"/>
<line x1="230.15" x2="230.15" y1="412.6" y2="592.2"/>
<line x1="246.92" x2="246.92" y1="412.6" y2="592.2"/>
<line x1="263.68" x2="263.68" y1="412.6" y2="592.2"/>
<line x1="280.44" x2="280.44" y1="412.6" y2="592.2"/>
<line x1="297.21" x2="297.21" y1="412.6" y2="592.2"/>
<line x1="313.98" x2="313.98" y1="412.6" y2="592.2"/>
<line x1="330.74" x2="330.74" y1="412.6" y2="592.2"/>
<line x1="347.50" x2="347.50" y1="412.6" y2="592.2"/>
<line x1="364.27" x2="364.27" y1="412.6" y2="592.2"/>
<line x1="381.04" x2="381.04" y1="412.6" y2="592.2"/>
<line x1="397.80" x2="397.80" y1="412.6" y2="592.2"/>
<line x1="414.56" x2="414.56" y1="412.6" y2="592.2"/>
<line x1="431.33" x2="431.33" y1="412.6" y2="592.2"/>
<line x1="448.10" x2="448.10" y1="412.6" y2="592.2"/>
<line x1="464.86" x2="464.86" y1="412.6" y2="592.2"/>
<line x1="481.62" x2="481.62" y1="412.6" y2="592.2"/>
<line x1="498.39" x2="498.39" y1="412.6" y2="592.2"/>
<line x1="515.15" x2="515.15" y1="412.6" y2="592.2"/>
<line x1="531.92" x2="531.92" y1="412.6" y2="592.2"/>
<line x1="548.68" x2="548.68" y1="412.6" y2="592.2"/>
<line x1="565.45" x2="565.45" y1="412.6" y2="592.2"/>
<line x1="582.22" x2="582.22" y1="412.6" y2="592.2"/>
<line x1="598.98" x2="598.98" y1="412.6" y2="592.2"/>
<line x1="615.75" x2="615.75" y1="412.6" y2="592.2"/>
<line x1="632.51" x2="632.51" y1="412.6" y2="592.2"/>
<line x1="649.27" x2="649.27" y1="412.6" y2="592.2"/>
<line x1="666.04" x2="666.04" y1="412.6" y2="592.2"/>
</g>
<text transform="translate(45.6,445.8) scale(1,1.06)" x="0" y="0" font-size="13.5" text-anchor="end" font-weight="normal" font-style="normal" fill="#000" >3</text>
<text transform="translate(45.6,478.8) scale(1,1.06)" x="0" y="0" font-size="13.5" text-anchor="end" font-weight="normal" font-style="normal" fill="#000" >2</text>
<text transform="translate(45.6,511.5) scale(1,1.06)" x="0" y="0" font-size="13.5" text-anchor="end" font-weight="normal" font-style="normal" fill="#000" >1</text>
<text transform="translate(45.6,544.5) scale(1,1.06)" x="0" y="0" font-size="13.5" text-anchor="end" font-weight="normal" font-style="normal" fill="#000" >0</text>
<text transform="translate(45.6,577.5) scale(1,1.06)" x="0" y="0" font-size="13.5" text-anchor="end" font-weight="normal" font-style="normal" fill="#000" >-1</text>
<circle cx="62.50" cy="435.80" r="7.70" fill="#e5a166" fill-opacity="0.95" stroke="#000" stroke-width="0.75" stroke-opacity="0.7"/>
<circle cx="79.27" cy="486.00" r="7.50" fill="#e5a166" fill-opacity="0.95" stroke="#000" stroke-width="0.75" stroke-opacity="0.7"/>
<circle cx="96.03" cy="444.40" r="6.90" fill="#e5a166" fill-opacity="0.95" stroke="#000" stroke-width="0.75" stroke-opacity="0.7"/>
<circle cx="112.80" cy="458.80" r="6.40" fill="#e5a166" fill-opacity="0.95" stroke="#000" stroke-width="0.75" stroke-opacity="0.7"/>
<circle cx="129.56" cy="477.20" r="5.90" fill="#e5a166" fill-opacity="0.95" stroke="#000" stroke-width="0.75" stroke-opacity="0.7"/>
<circle cx="146.32" cy="465.80" r="5.90" fill="#e5a166" fill-opacity="0.95" stroke="#000" stroke-width="0.75" stroke-opacity="0.7"/>
<circle cx="163.09" cy="524.50" r="5.90" fill="#d9d9d9" fill-opacity="0.95" stroke="#000" stroke-width="0.75" stroke-opacity="0.7"/>
<circle cx="179.86" cy="421.00" r="5.50" fill="#e5a166" fill-opacity="0.95" stroke="#000" stroke-width="0.75" stroke-opacity="0.7"/>
<circle cx="196.62" cy="504.20" r="5.40" fill="#e5a166" fill-opacity="0.95" stroke="#000" stroke-width="0.75" stroke-opacity="0.7"/>
<circle cx="213.38" cy="477.20" r="5.50" fill="#e5a166" fill-opacity="0.95" stroke="#000" stroke-width="0.75" stroke-opacity="0.7"/>
<circle cx="230.15" cy="473.50" r="5.50" fill="#e5a166" fill-opacity="0.95" stroke="#000" stroke-width="0.75" stroke-opacity="0.7"/>
<circle cx="246.92" cy="539.60" r="5.60" fill="#d9d9d9" fill-opacity="0.95" stroke="#000" stroke-width="0.75" stroke-opacity="0.7"/>
<circle cx="263.68" cy="469.60" r="5.50" fill="#e5a166" fill-opacity="0.95" stroke="#000" stroke-width="0.75" stroke-opacity="0.7"/>
<circle cx="280.44" cy="486.00" r="5.40" fill="#e5a166" fill-opacity="0.95" stroke="#000" stroke-width="0.75" stroke-opacity="0.7"/>
<circle cx="297.21" cy="469.60" r="5.20" fill="#e5a166" fill-opacity="0.95" stroke="#000" stroke-width="0.75" stroke-opacity="0.7"/>
<circle cx="313.98" cy="495.40" r="5.00" fill="#e5a166" fill-opacity="0.95" stroke="#000" stroke-width="0.75" stroke-opacity="0.7"/>
<circle cx="330.74" cy="469.60" r="5.20" fill="#e5a166" fill-opacity="0.95" stroke="#000" stroke-width="0.75" stroke-opacity="0.7"/>
<circle cx="347.50" cy="486.60" r="5.20" fill="#e5a166" fill-opacity="0.95" stroke="#000" stroke-width="0.75" stroke-opacity="0.7"/>
<circle cx="364.27" cy="495.40" r="4.70" fill="#e5a166" fill-opacity="0.95" stroke="#000" stroke-width="0.75" stroke-opacity="0.7"/>
<circle cx="381.04" cy="486.00" r="4.80" fill="#e5a166" fill-opacity="0.95" stroke="#000" stroke-width="0.75" stroke-opacity="0.7"/>
<circle cx="397.80" cy="458.80" r="4.70" fill="#e5a166" fill-opacity="0.95" stroke="#000" stroke-width="0.75" stroke-opacity="0.7"/>
<circle cx="414.56" cy="510.10" r="4.70" fill="#d9d9d9" fill-opacity="0.95" stroke="#000" stroke-width="0.75" stroke-opacity="0.7"/>
<circle cx="431.33" cy="493.90" r="4.60" fill="#e5a166" fill-opacity="0.95" stroke="#000" stroke-width="0.75" stroke-opacity="0.7"/>
<circle cx="448.10" cy="584.10" r="4.40" fill="#8c68d0" fill-opacity="0.95" stroke="#000" stroke-width="0.75" stroke-opacity="0.7"/>
<circle cx="464.86" cy="486.00" r="4.30" fill="#e5a166" fill-opacity="0.95" stroke="#000" stroke-width="0.75" stroke-opacity="0.7"/>
<circle cx="481.62" cy="506.30" r="4.20" fill="#e5a166" fill-opacity="0.95" stroke="#000" stroke-width="0.75" stroke-opacity="0.7"/>
<circle cx="498.39" cy="501.50" r="4.10" fill="#e5a166" fill-opacity="0.95" stroke="#000" stroke-width="0.75" stroke-opacity="0.7"/>
<circle cx="515.15" cy="502.40" r="4.00" fill="#e5a166" fill-opacity="0.95" stroke="#000" stroke-width="0.75" stroke-opacity="0.7"/>
<circle cx="531.92" cy="466.10" r="4.00" fill="#e5a166" fill-opacity="0.95" stroke="#000" stroke-width="0.75" stroke-opacity="0.7"/>
<circle cx="548.68" cy="554.10" r="3.50" fill="#d9d9d9" fill-opacity="0.95" stroke="#000" stroke-width="0.75" stroke-opacity="0.7"/>
<circle cx="565.45" cy="477.40" r="3.70" fill="#e5a166" fill-opacity="0.95" stroke="#000" stroke-width="0.75" stroke-opacity="0.7"/>
<circle cx="582.22" cy="462.80" r="3.70" fill="#e5a166" fill-opacity="0.95" stroke="#000" stroke-width="0.75" stroke-opacity="0.7"/>
<circle cx="598.98" cy="506.60" r="3.50" fill="#e5a166" fill-opacity="0.95" stroke="#000" stroke-width="0.75" stroke-opacity="0.7"/>
<circle cx="615.75" cy="502.10" r="3.10" fill="#e5a166" fill-opacity="0.95" stroke="#000" stroke-width="0.75" stroke-opacity="0.7"/>
<circle cx="632.51" cy="495.40" r="3.20" fill="#e5a166" fill-opacity="0.95" stroke="#000" stroke-width="0.75" stroke-opacity="0.7"/>
<circle cx="649.27" cy="506.60" r="2.70" fill="#e5a166" fill-opacity="0.95" stroke="#000" stroke-width="0.75" stroke-opacity="0.7"/>
<circle cx="666.04" cy="528.60" r="2.50" fill="#d9d9d9" fill-opacity="0.95" stroke="#000" stroke-width="0.75" stroke-opacity="0.7"/>
<line x1="52.9" x2="675.0" y1="506.60" y2="506.60" stroke="#e23c16" stroke-width="3.3" stroke-dasharray="11.7 11.79"/>
<line x1="52.9" x2="675.0" y1="572.60" y2="572.60" stroke="#e23c16" stroke-width="3.3" stroke-dasharray="11.7 11.79"/>
<rect x="52.4" y="412.6" width="623.1" height="179.6" fill="none" stroke="#d4d4d4" stroke-width="1"/>
<text transform="translate(1.0,424.8) scale(1,1.06)" x="0" y="0" font-size="21.6" text-anchor="start" font-weight="bold" font-style="normal" fill="#000" >C</text>
<text transform="translate(20.4,501.9) rotate(-90) " x="0" y="0" font-size="13.6" font-weight="bold" text-anchor="middle" fill="#000">Z-score</text>
<text transform="translate(58.70,594.0) rotate(-90)" x="0" y="0" font-size="10.9" text-anchor="end" fill="#000">TCF dependent signaling in response to</text>
<text transform="translate(69.70,594.0) rotate(-90)" x="0" y="0" font-size="10.9" text-anchor="end" fill="#000">WNT</text>
<text transform="translate(82.17,594.0) rotate(-90)" x="0" y="0" font-size="10.9" text-anchor="end" fill="#000">Stearate Biosynthesis I (Animals)</text>
<text transform="translate(98.93,594.0) rotate(-90)" x="0" y="0" font-size="10.9" text-anchor="end" fill="#000">Glycerophospholipid biosynthesis</text>
<text transform="translate(115.70,594.0) rotate(-90)" x="0" y="0" font-size="10.9" text-anchor="end" fill="#000">Arachidonic acid metabolism</text>
<text transform="translate(132.46,594.0) rotate(-90)" x="0" y="0" font-size="10.9" text-anchor="end" fill="#000">Pyridoxal 5&#39;-phosphate Salvage Pathway</text>
<text transform="translate(149.22,594.0) rotate(-90)" x="0" y="0" font-size="10.9" text-anchor="end" fill="#000">Nucleotide catabolism</text>
<text transform="translate(165.99,594.0) rotate(-90)" x="0" y="0" font-size="10.9" text-anchor="end" fill="#000">Fatty acyl-CoA biosynthesis</text>
<text transform="translate(182.76,594.0) rotate(-90)" x="0" y="0" font-size="10.9" text-anchor="end" fill="#000">Ion channel transport</text>
<text transform="translate(199.52,594.0) rotate(-90)" x="0" y="0" font-size="10.9" text-anchor="end" fill="#000">Eicosanoid Signaling</text>
<text transform="translate(216.28,594.0) rotate(-90)" x="0" y="0" font-size="10.9" text-anchor="end" fill="#000">Atherosclerosis Signaling</text>
<text transform="translate(233.05,594.0) rotate(-90)" x="0" y="0" font-size="10.9" text-anchor="end" fill="#000">Triacylglycerol Biosynthesis</text>
<text transform="translate(249.82,594.0) rotate(-90)" x="0" y="0" font-size="10.9" text-anchor="end" fill="#000">cAMP-mediated signaling</text>
<text transform="translate(262.78,594.0) rotate(-90)" x="0" y="0" font-size="10.9" text-anchor="end" fill="#000">Degradation of beta-catenin by the</text>
<text transform="translate(271.98,594.0) rotate(-90)" x="0" y="0" font-size="10.9" text-anchor="end" fill="#000">destruction complex</text>
<text transform="translate(283.34,594.0) rotate(-90)" x="0" y="0" font-size="10.9" text-anchor="end" fill="#000">Visual phototransduction</text>
<text transform="translate(300.11,594.0) rotate(-90)" x="0" y="0" font-size="10.9" text-anchor="end" fill="#000">Salvage Pathways of Pyrimidine Ribonucleotides</text>
<text transform="translate(316.88,594.0) rotate(-90)" x="0" y="0" font-size="10.9" text-anchor="end" fill="#000">Retinoid metabolism and transport</text>
<text transform="translate(333.64,594.0) rotate(-90)" x="0" y="0" font-size="10.9" text-anchor="end" fill="#000">Serotonin Receptor Signaling</text>
<text transform="translate(345.50,594.0) rotate(-90)" x="0" y="0" font-size="10.9" text-anchor="end" fill="#000">Glutamergic Receptor Signaling</text>
<text transform="translate(355.61,594.0) rotate(-90)" x="0" y="0" font-size="10.9" text-anchor="end" fill="#000">Pathway (Enhanced)</text>
<text transform="translate(367.17,594.0) rotate(-90)" x="0" y="0" font-size="10.9" text-anchor="end" fill="#000">Phospholipases</text>
<text transform="translate(383.94,594.0) rotate(-90)" x="0" y="0" font-size="10.9" text-anchor="end" fill="#000">Calcium Signaling</text>
<text transform="translate(400.70,594.0) rotate(-90)" x="0" y="0" font-size="10.9" text-anchor="end" fill="#000">Ribavirin ADME</text>
<text transform="translate(417.46,594.0) rotate(-90)" x="0" y="0" font-size="10.9" text-anchor="end" fill="#000">Synaptic Long Term Depression</text>
<text transform="translate(434.23,594.0) rotate(-90)" x="0" y="0" font-size="10.9" text-anchor="end" fill="#000">NAFLD Signaling Pathway</text>
<text transform="translate(451.00,594.0) rotate(-90)" x="0" y="0" font-size="10.9" text-anchor="end" fill="#000">Antioxidant Action of Vitamin C</text>
<text transform="translate(467.76,594.0) rotate(-90)" x="0" y="0" font-size="10.9" text-anchor="end" fill="#000">Opioid Signalling</text>
<text transform="translate(484.52,594.0) rotate(-90)" x="0" y="0" font-size="10.9" text-anchor="end" fill="#000">PRC2 methylates histones and DNA</text>
<text transform="translate(501.29,594.0) rotate(-90)" x="0" y="0" font-size="10.9" text-anchor="end" fill="#000">Docosahexaenoic Acid (DHA) Signaling</text>
<text transform="translate(518.05,594.0) rotate(-90)" x="0" y="0" font-size="10.9" text-anchor="end" fill="#000">Sperm Motility</text>
<text transform="translate(534.82,594.0) rotate(-90)" x="0" y="0" font-size="10.9" text-anchor="end" fill="#000">Somitogenesis</text>
<text transform="translate(546.58,594.0) rotate(-90)" x="0" y="0" font-size="10.9" text-anchor="end" fill="#000">RUNX1 regulates megakaryocyte</text>
<text transform="translate(555.78,594.0) rotate(-90)" x="0" y="0" font-size="10.9" text-anchor="end" fill="#000">differentiation and platelet function</text>
<text transform="translate(568.35,594.0) rotate(-90)" x="0" y="0" font-size="10.9" text-anchor="end" fill="#000">Apelin Cardiomyocyte Signaling Pathway</text>
<text transform="translate(585.12,594.0) rotate(-90)" x="0" y="0" font-size="10.9" text-anchor="end" fill="#000">Necroptosis Signaling Pathway</text>
<text transform="translate(601.88,594.0) rotate(-90)" x="0" y="0" font-size="10.9" text-anchor="end" fill="#000">Polyamine Regulation in Colon Cancer</text>
<text transform="translate(618.64,594.0) rotate(-90)" x="0" y="0" font-size="10.9" text-anchor="end" fill="#000">S Phase</text>
<text transform="translate(635.41,594.0) rotate(-90)" x="0" y="0" font-size="10.9" text-anchor="end" fill="#000">Xenobiotic Metabolism AHR Signaling Pathway</text>
<text transform="translate(652.17,594.0) rotate(-90)" x="0" y="0" font-size="10.9" text-anchor="end" fill="#000">Oxytocin in Brain Signaling Pathway</text>
<text transform="translate(668.94,594.0) rotate(-90)" x="0" y="0" font-size="10.9" text-anchor="end" fill="#000">FXR/RXR Activation</text>
<text transform="translate(315,842) scale(1,1.06)" x="0" y="0" font-size="12" font-weight="bold" fill="#000">Pathway</text>
<text x="7.4" y="823.5" font-size="10.8" text-anchor="start" font-weight="normal" font-style="normal" fill="#000" >Activity prediction</text>
<circle cx="11.40" cy="832.90" r="6.00" fill="#8c7dd2" fill-opacity="1.0" stroke="none" stroke-width="0" />
<text x="23.0" y="835.9" font-size="10.8" text-anchor="start" font-weight="normal" font-style="normal" fill="#000" >downregulated pathway</text>
<circle cx="11.40" cy="850.50" r="5.90" fill="#d8d9d9" fill-opacity="1.0" stroke="none" stroke-width="0" />
<text x="23.0" y="853.1" font-size="10.8" text-anchor="start" font-weight="normal" font-style="normal" fill="#000" >no activity prediction</text>
<circle cx="11.40" cy="865.60" r="6.10" fill="#e6a56e" fill-opacity="1.0" stroke="none" stroke-width="0" />
<text x="23.0" y="869.1" font-size="10.8" text-anchor="start" font-weight="normal" font-style="normal" fill="#000" >upregulated pathway</text>
<text x="167.7" y="839.3" font-size="10.8" text-anchor="start" font-weight="normal" font-style="normal" fill="#000" >-log10(P-value)</text>
<text x="164.6" y="856.1" font-size="10.8" text-anchor="middle" font-weight="normal" font-style="normal" fill="#000" >1.5</text>
<circle cx="165.40" cy="868.20" r="4.30" fill="none" fill-opacity="1.0" stroke="#7a7a7a" stroke-width="0.8" />
<text x="184.4" y="856.1" font-size="10.8" text-anchor="middle" font-weight="normal" font-style="normal" fill="#000" >2.0</text>
<circle cx="184.40" cy="868.20" r="5.70" fill="none" fill-opacity="1.0" stroke="#7a7a7a" stroke-width="0.8" />
<text x="204.6" y="856.1" font-size="10.8" text-anchor="middle" font-weight="normal" font-style="normal" fill="#000" >2.5</text>
<circle cx="204.60" cy="868.20" r="6.40" fill="none" fill-opacity="1.0" stroke="#7a7a7a" stroke-width="0.8" />
<text x="224.0" y="856.1" font-size="10.8" text-anchor="middle" font-weight="normal" font-style="normal" fill="#000" >3.0</text>
<circle cx="224.00" cy="868.20" r="7.20" fill="none" fill-opacity="1.0" stroke="#7a7a7a" stroke-width="0.8" />
<text x="244.9" y="856.1" font-size="10.8" text-anchor="middle" font-weight="normal" font-style="normal" fill="#000" >3.5</text>
<circle cx="244.90" cy="868.20" r="7.80" fill="none" fill-opacity="1.0" stroke="#7a7a7a" stroke-width="0.8" />
</svg>
</body></html>
